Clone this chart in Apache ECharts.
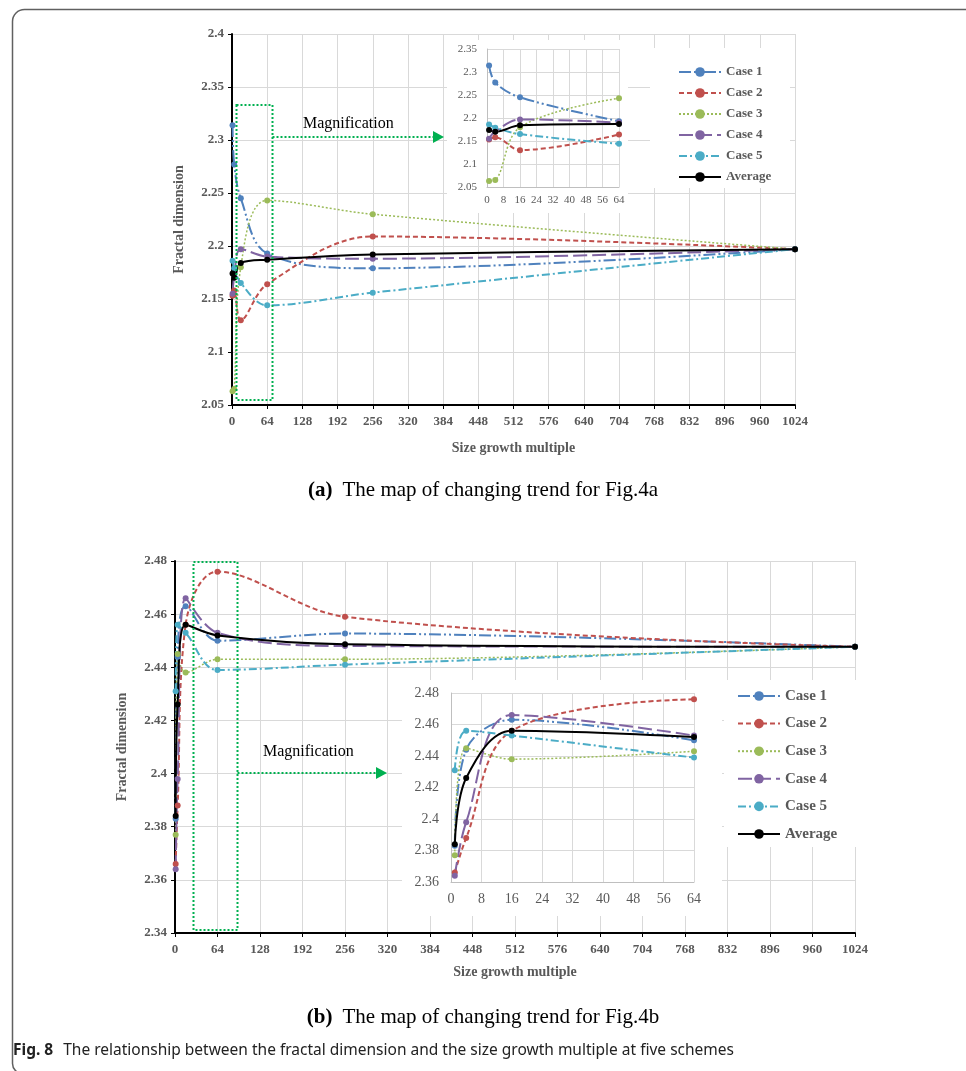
<!DOCTYPE html>
<html>
<head>
<meta charset="utf-8">
<script src="https://cdn.jsdelivr.net/npm/echarts@6/dist/echarts.min.js"></script>
<style>
  html, body { margin: 0; padding: 0; background: #fff; }
  #chart { width: 966px; height: 1071px; }
</style>
</head>
<body>
<div id="chart"></div>
<script>
// size growth multiples
const sizes = [1, 4, 16, 64, 256, 1024];
const seriesNames = ['Case 1', 'Case 2', 'Case 3', 'Case 4', 'Case 5', 'Average'];

// (a) Fig.4a
const aCase1 = [2.314, 2.277, 2.245, 2.193, 2.179, 2.197];
const aCase2 = [2.153, 2.158, 2.130, 2.164, 2.209, 2.197];
const aCase3 = [2.063, 2.065, 2.180, 2.243, 2.230, 2.197];
const aCase4 = [2.155, 2.171, 2.197, 2.190, 2.188, 2.197];
const aCase5 = [2.186, 2.179, 2.165, 2.144, 2.156, 2.197];
const aAverage = [2.174, 2.170, 2.184, 2.187, 2.192, 2.197];

// (b) Fig.4b
const bCase1 = [2.383, 2.444, 2.463, 2.450, 2.4527, 2.4477];
const bCase2 = [2.366, 2.388, 2.456, 2.476, 2.459, 2.4477];
const bCase3 = [2.377, 2.445, 2.438, 2.443, 2.443, 2.4477];
const bCase4 = [2.364, 2.398, 2.466, 2.453, 2.448, 2.4477];
const bCase5 = [2.431, 2.456, 2.453, 2.439, 2.441, 2.4477];
const bAverage = [2.384, 2.426, 2.456, 2.452, 2.4487, 2.4477];

const aData = [aCase1, aCase2, aCase3, aCase4, aCase5, aAverage];
const bData = [bCase1, bCase2, bCase3, bCase4, bCase5, bAverage];

// excel-ish line styles
const lineStyles = [
  { color: '#4F81BD', type: [12, 3, 2, 3, 2, 3], width: 2 },
  { color: '#C0504D', type: [5, 3], width: 2 },
  { color: '#9BBB59', type: [2, 2], width: 1.5 },
  { color: '#8064A2', type: [14, 5], width: 2 },
  { color: '#4BACC6', type: [8, 3, 2, 3], width: 2 },
  { color: '#000000', type: 'solid', width: 2 }
];

const serif = 'Liberation Serif';
const gray = '#595959';
const gridColor = '#d9d9d9';
const green = '#00B050';

// build series for one grid
function makeSeries(data, axisIndex, count, z) {
  return data.map((vals, i) => ({
    name: seriesNames[i],
    type: 'line',
    xAxisIndex: axisIndex,
    yAxisIndex: axisIndex,
    data: sizes.slice(0, count).map((s, k) => [s, vals[k]]),
    smooth: 0.35,
    symbol: 'circle',
    symbolSize: 6,
    z: z,
    color: lineStyles[i].color,
    itemStyle: { color: lineStyles[i].color },
    lineStyle: { color: lineStyles[i].color, type: lineStyles[i].type, width: lineStyles[i].width },
    emphasis: { disabled: true }
  }));
}

// main axes (bold labels, black axis line)
function mainX(gridIndex, nameGap) {
  return {
    gridIndex: gridIndex, type: 'value', min: 0, max: 1024, interval: 64,
    name: 'Size growth multiple', nameLocation: 'middle', nameGap: nameGap,
    nameTextStyle: { fontFamily: serif, fontWeight: 'bold', fontSize: 14, color: gray },
    axisLine: { lineStyle: { color: '#000', width: 2 } },
    axisTick: { show: true, length: 4, lineStyle: { color: '#000' } },
    axisLabel: { fontFamily: serif, fontWeight: 'bold', fontSize: 13, color: gray, margin: 10,
      formatter: (v) => String(v) },
    splitLine: { show: true, lineStyle: { color: gridColor, width: 1 } }
  };
}
function mainY(gridIndex, min, max, interval) {
  return {
    gridIndex: gridIndex, type: 'value', min: min, max: max, interval: interval,
    name: 'Fractal dimension', nameLocation: 'middle', nameGap: 46, nameRotate: 90,
    nameTextStyle: { fontFamily: serif, fontWeight: 'bold', fontSize: 14, color: gray },
    axisLine: { show: true, lineStyle: { color: '#000', width: 2 } },
    axisTick: { show: true, length: 4, lineStyle: { color: '#000' } },
    axisLabel: { fontFamily: serif, fontWeight: 'bold', fontSize: 13, color: gray, margin: 8 },
    splitLine: { show: true, lineStyle: { color: gridColor, width: 1 } }
  };
}
// inset axes
function insetX(gridIndex, fontSize, margin) {
  return {
    gridIndex: gridIndex, type: 'value', min: 0, max: 64, interval: 8, z: 11,
    axisLine: { lineStyle: { color: '#bfbfbf', width: 1 } },
    axisTick: { show: false },
    axisLabel: { fontFamily: serif, fontSize: fontSize, color: gray, margin: margin },
    splitLine: { show: true, lineStyle: { color: gridColor, width: 1 } }
  };
}
function insetY(gridIndex, min, max, interval, fontSize, margin) {
  return {
    gridIndex: gridIndex, type: 'value', min: min, max: max, interval: interval, z: 11,
    axisLine: { show: true, lineStyle: { color: '#bfbfbf', width: 1 } },
    axisTick: { show: false },
    axisLabel: { fontFamily: serif, fontSize: fontSize, color: gray, margin: margin },
    splitLine: { show: true, lineStyle: { color: gridColor, width: 1 } }
  };
}

function legendAt(left, top, gap, fontSize) {
  return {
    data: seriesNames, orient: 'vertical', left: left, top: top,
    itemWidth: 42, itemHeight: 12, itemGap: gap, selectedMode: false, z: 12,
    textStyle: { fontFamily: serif, fontWeight: 'bold', fontSize: fontSize, color: gray }
  };
}

function caption(bold, rest, left, top, family, size, color) {
  return {
    text: '{b|' + bold + '}  {n|' + rest + '}', left: left, top: top,
    textStyle: { fontWeight: 'normal', rich: {
      b: { fontFamily: family, fontWeight: 'bold', fontSize: size, color: color },
      n: { fontFamily: family, fontWeight: 'normal', fontSize: size, color: color } } }
  };
}

const chart = echarts.init(document.getElementById('chart'));
chart.setOption({
  animation: false,
  backgroundColor: '#fff',
  title: [
    caption('(a)', 'The map of changing trend for Fig.4a', 'center', 475, serif, 21, '#000'),
    caption('(b)', 'The map of changing trend for Fig.4b', 'center', 1002, serif, 21, '#000'),
    caption('Fig. 8', 'The relationship between the fractal dimension and the size growth multiple at five schemes',
      8, 1037, 'Noto Sans', 15.5, '#222')
  ],
  grid: [
    { left: 232, top: 34, width: 563, height: 371 },
    { left: 487, top: 49, width: 132, height: 138 },
    { left: 175, top: 561, width: 680, height: 372 },
    { left: 451, top: 693, width: 243, height: 189 }
  ],
  xAxis: [mainX(0, 36), insetX(1, 11, 8), mainX(2, 32), insetX(3, 14, 10)],
  yAxis: [
    mainY(0, 2.05, 2.4, 0.05),
    insetY(1, 2.05, 2.35, 0.05, 11, 10),
    mainY(2, 2.34, 2.48, 0.02),
    insetY(3, 2.36, 2.48, 0.02, 14, 12)
  ],
  legend: [legendAt(673, 60.5, 8, 13), legendAt(732, 683.5, 12.6, 15)],
  graphic: [
    // outer frame, rounded on the left (bottom edge runs off the page)
    { type: 'rect', z: 20, shape: { x: 12.5, y: 9.5, width: 1000, height: 1064, r: [12, 0, 0, 10] },
      style: { fill: 'none', stroke: '#606060', lineWidth: 1.5 } },
    // white backgrounds behind insets and legends
    { type: 'rect', z: 10, shape: { x: 447, y: 40, width: 181, height: 173 }, style: { fill: '#fff' } },
    { type: 'rect', z: 10, shape: { x: 650, y: 48, width: 140, height: 140 }, style: { fill: '#fff' } },
    { type: 'rect', z: 10, shape: { x: 402, y: 680, width: 320, height: 236 }, style: { fill: '#fff' } },
    { type: 'rect', z: 10, shape: { x: 724, y: 680, width: 133, height: 167 }, style: { fill: '#fff' } },
    // magnification boxes
    { type: 'rect', z: 13, shape: { x: 236.5, y: 105, width: 36, height: 295 },
      style: { fill: 'none', stroke: green, lineWidth: 2, lineDash: [2, 2] } },
    { type: 'rect', z: 13, shape: { x: 193.5, y: 562, width: 44, height: 368 },
      style: { fill: 'none', stroke: green, lineWidth: 2, lineDash: [2, 2] } },
    // arrows
    { type: 'line', z: 13, shape: { x1: 272.5, y1: 137, x2: 434, y2: 137 },
      style: { stroke: green, lineWidth: 2, lineDash: [2, 2] } },
    { type: 'polygon', z: 13, shape: { points: [[433, 131], [444, 137], [433, 143]] }, style: { fill: green } },
    { type: 'line', z: 13, shape: { x1: 237.5, y1: 773, x2: 377, y2: 773 },
      style: { stroke: green, lineWidth: 2, lineDash: [2, 2] } },
    { type: 'polygon', z: 13, shape: { points: [[376, 767], [387, 773], [376, 779]] }, style: { fill: green } },
    // labels
    { type: 'text', z: 13, style: { text: 'Magnification', x: 303, y: 124, font: '16px Liberation Serif', fill: '#000', textVerticalAlign: 'middle' } },
    { type: 'text', z: 13, style: { text: 'Magnification', x: 263, y: 752, font: '16px Liberation Serif', fill: '#000', textVerticalAlign: 'middle' } }
  ],
  series: [].concat(
    makeSeries(aData, 0, 6, 2),
    makeSeries(aData, 1, 4, 12),
    makeSeries(bData, 2, 6, 2),
    makeSeries(bData, 3, 4, 12)
  )
});
</script>
</body>
</html>
